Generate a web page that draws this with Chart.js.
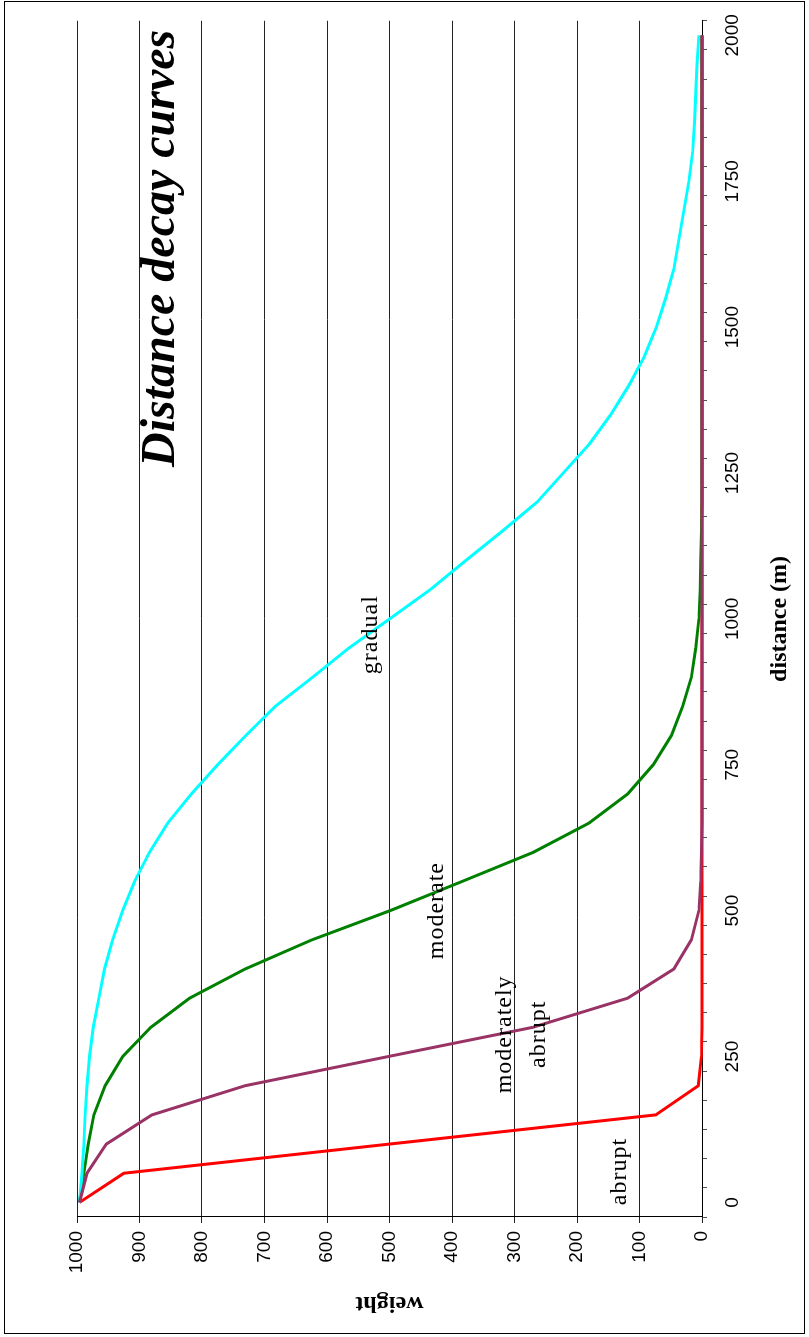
<!DOCTYPE html>
<html>
<head>
<meta charset="utf-8">
<title>Distance decay curves</title>
<script src="https://cdn.jsdelivr.net/npm/chart.js@4.4.1/dist/chart.umd.min.js"></script>
<style>
  html, body { margin: 0; padding: 0; background: #fff; }
  /* the chart is drawn landscape and turned a quarter turn to the left */
  #page { position: relative; width: 809px; height: 1337px; overflow: hidden; background: #fff; }
  #turn {
    position: absolute; left: 0; top: 0; width: 1337px; height: 809px;
    transform-origin: 0 0; transform: translateY(1337px) rotate(-90deg);
  }
  #frame {
    position: absolute; left: 3px; top: 4px; width: 1333px; height: 801px;
    box-sizing: border-box; border: 1.5px solid #000;
  }
  #chart { position: absolute; left: 0; top: 0; }
</style>
</head>
<body>
<div id="page">
  <div id="turn">
    <div id="frame"></div>
    <canvas id="chart" width="1337" height="809" style="width:1337px;height:809px"></canvas>
  </div>
</div>
<script>
// distance (m), one category every 50 m
const DISTANCES = [0, 50, 100, 150, 200, 250, 300, 350, 400, 450, 500, 550, 600, 650, 700, 750, 800,
  850, 900, 950, 1000, 1050, 1100, 1150, 1200, 1250, 1300, 1350, 1400, 1450, 1500, 1550, 1600,
  1650, 1700, 1750, 1800, 1850, 1900, 1950, 2000];

// weights
const ABRUPT = [996, 925, 500, 74, 6, 1, 0, 0, 0, 0, 0, 0, 0, 0, 0, 0, 0, 0, 0, 0, 0,
  0, 0, 0, 0, 0, 0, 0, 0, 0, 0, 0, 0, 0, 0, 0, 0, 0, 0, 0, 0];
const MODERATELY_ABRUPT = [996, 984, 953, 880, 731, 502, 271, 119, 45, 17, 5, 2, 1, 0, 0, 0, 0, 0, 0, 0, 0,
  0, 0, 0, 0, 0, 0, 0, 0, 0, 0, 0, 0, 0, 0, 0, 0, 0, 0, 0, 0];
const MODERATE = [996, 989, 982, 973, 955, 927, 882, 820, 731, 624, 499, 384, 270, 181, 119, 78, 49, 31, 17, 10, 5,
  3, 2, 1, 0, 0, 0, 0, 0, 0, 0, 0, 0, 0, 0, 0, 0, 0, 0, 0, 0];
const GRADUAL = [996, 992, 989, 987, 984, 980, 974, 965, 956, 943, 927, 908, 884, 855, 817, 775, 730, 683, 623, 565, 500,
  435, 378, 320, 264, 222, 180, 146, 117, 92, 73, 58, 45, 37, 29, 21, 15, 12, 10, 8, 5];

const LABEL_EVERY = 250;   // distance tick labels shown every 250 m
const WEIGHT_MIN = 0;
const WEIGHT_MAX = 1000;
const WEIGHT_STEP = 100;

const TITLE = 'Distance decay curves';

// text written next to the curves, anchored in data space (distance m, weight)
const CURVE_LABELS = ['gradual', 'moderate', 'moderately', 'abrupt', 'abrupt'];
const LABEL_AT_DISTANCE = [973, 500, 288, 288, 53];
const LABEL_AT_WEIGHT = [520, 414, 306, 251, 122];

const SERIF = '"Liberation Serif", "Times New Roman", serif';
const SANS = '"Liberation Sans", Arial, sans-serif';

const annotate = {
  id: 'annotate',
  afterDatasetsDraw(chart) {
    const { ctx, chartArea, scales: { x, y } } = chart;
    const step = DISTANCES[1] - DISTANCES[0];
    ctx.save();
    ctx.fillStyle = '#000';
    ctx.textBaseline = 'alphabetic';
    ctx.textAlign = 'center';
    ctx.font = '24px ' + SERIF;
    if ('letterSpacing' in ctx) ctx.letterSpacing = '1px';
    CURVE_LABELS.forEach((text, i) => {
      ctx.fillText(text, x.getPixelForValue(LABEL_AT_DISTANCE[i] / step), y.getPixelForValue(LABEL_AT_WEIGHT[i]));
    });
    if ('letterSpacing' in ctx) ctx.letterSpacing = '0px';
    ctx.textAlign = 'right';
    ctx.font = 'italic bold 48px ' + SERIF;
    ctx.fillText(TITLE, chartArea.right - 9, chartArea.top + 97);
    ctx.restore();
  }
};

function line(data, color) {
  return { data, borderColor: color, backgroundColor: color, borderWidth: 3, pointRadius: 0, tension: 0, fill: false, clip: false };
}

new Chart(document.getElementById('chart'), {
  type: 'line',
  data: {
    labels: DISTANCES,
    // first dataset is painted last, so the plum curve sits on top where they all reach zero
    datasets: [
      line(MODERATELY_ABRUPT, '#993366'),
      line(GRADUAL, '#00FFFF'),
      line(MODERATE, '#008000'),
      line(ABRUPT, '#FF0000')
    ]
  },
  options: {
    responsive: false,
    animation: false,
    devicePixelRatio: 1,
    layout: { padding: { left: 0, right: 19, top: 77, bottom: 0 } },
    plugins: { legend: { display: false }, tooltip: { enabled: false }, title: { display: false } },
    scales: {
      x: {
        type: 'category',
        offset: true,
        afterFit: s => { s.height = 107; },
        grid: { offset: true, drawOnChartArea: false, drawTicks: true, tickLength: 5, color: '#555' },
        border: { display: true, color: '#000', width: 1 },
        ticks: {
          autoSkip: false, maxRotation: 0, minRotation: 0, padding: 14, color: '#000',
          font: { family: SANS, size: 19 },
          callback: (v, i) => (DISTANCES[i] % LABEL_EVERY === 0 ? String(DISTANCES[i]) : '')
        },
        title: {
          display: true, text: 'distance (m)', color: '#000',
          font: { family: SERIF, size: 24, weight: 'bold' }, padding: { top: 0, bottom: 15 }
        }
      },
      y: {
        min: WEIGHT_MIN,
        max: WEIGHT_MAX,
        afterFit: s => { s.width = 120; },
        grid: { color: '#222', lineWidth: 1, drawTicks: true, tickLength: 6 },
        border: { display: true, color: '#000', width: 1 },
        ticks: {
          stepSize: WEIGHT_STEP, padding: 8, color: '#000', font: { family: SANS, size: 19 },
          callback: v => String(v)
        },
        title: {
          display: true, text: 'weight', color: '#000',
          font: { family: SERIF, size: 24, weight: 'bold' }, padding: { top: 19, bottom: 0 }
        }
      }
    }
  },
  plugins: [annotate]
});
</script>
</body>
</html>
